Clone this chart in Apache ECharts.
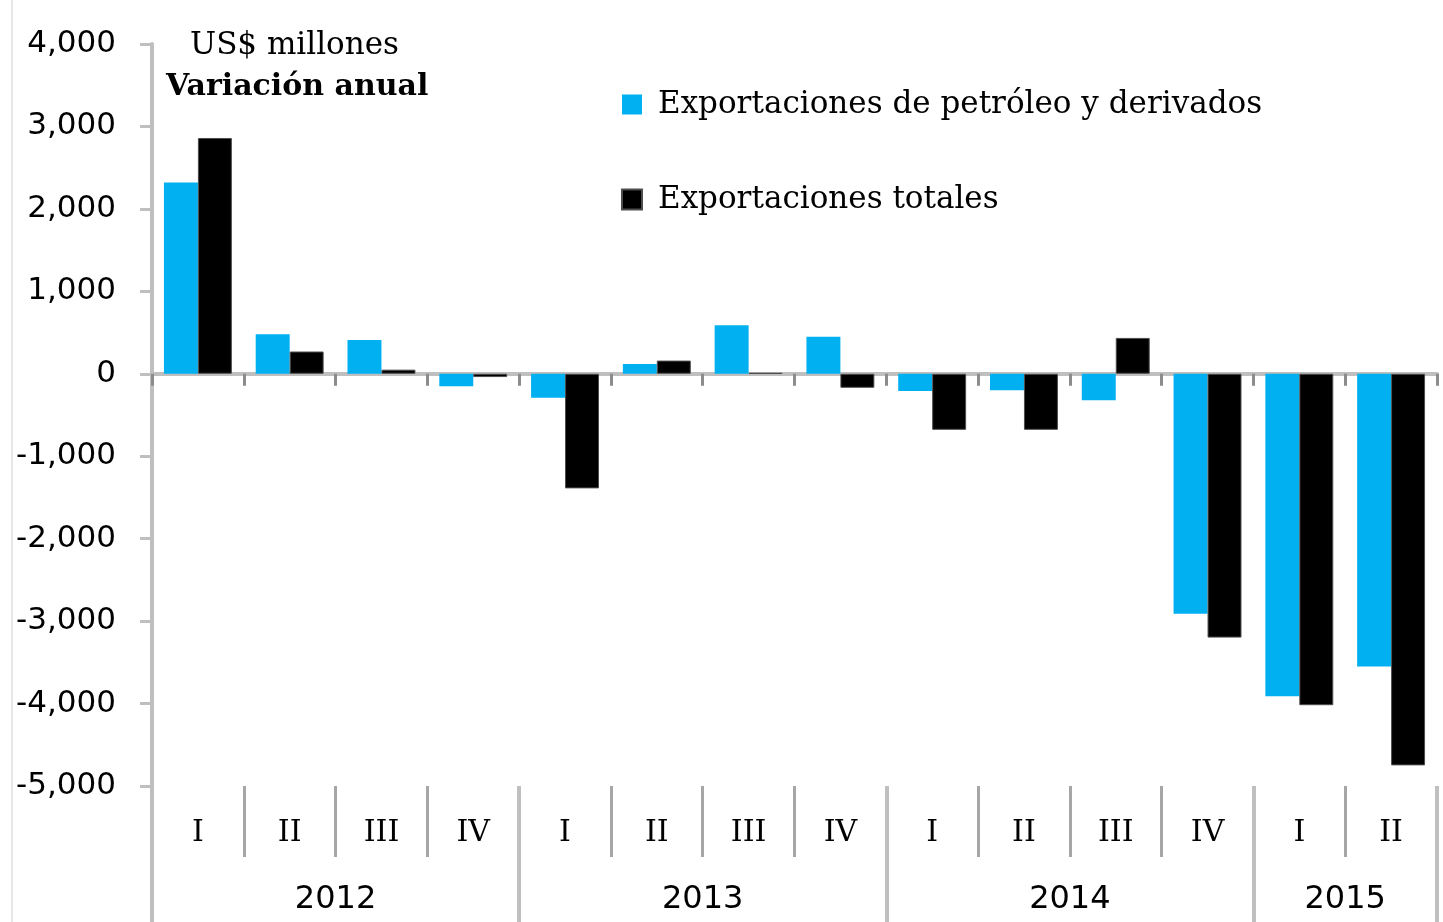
<!DOCTYPE html>
<html style="height: 100%">
<head>
    <meta charset="utf-8">
    <title>Exportaciones - variación anual</title>
</head>
<body style="height: 100%; margin: 0; background: #fff">
<div id="container" style="width: 1443px; height: 922px"></div>
<script type="text/javascript" src="https://cdn.jsdelivr.net/npm/echarts@6/dist/echarts.min.js"></script>
<script type="text/javascript">
    // trimestres y años
    var trimestres = ['I', 'II', 'III', 'IV', 'I', 'II', 'III', 'IV', 'I', 'II', 'III', 'IV', 'I', 'II'];
    var anios = ['2012', '2013', '2014', '2015'];
    var aniosPos = [2, 6, 10, 13];          // centro de cada año (en trimestres)
    var aniosLimites = [0, 4, 8, 12, 14];   // separadores entre años

    // US$ millones, variación anual
    var petroleo = [2320, 480, 410, -150, -290, 120, 590, 450, -210, -200, -320, -2910, -3910, -3550];
    var totales = [2860, 270, 50, -40, -1390, 160, 10, -170, -680, -680, 435, -3200, -4020, -4750];

    var yTicks = [-5000, -4000, -3000, -2000, -1000, 0, 1000, 2000, 3000, 4000];

    var serif = '"DejaVu Serif", "Liberation Serif", serif';
    var sans = '"DejaVu Sans", "Liberation Sans", sans-serif';
    var gris = '#BFBFBF';

    var dom = document.getElementById("container");
    var myChart = echarts.init(dom);

    var option = {
        animation: false,
        backgroundColor: '#fff',
        grid: {left: 152, right: 6, top: 44, bottom: 136},
        legend: {
            orient: 'vertical',
            left: 616,
            top: 84,
            itemWidth: 20,
            itemHeight: 20,
            itemGap: 64,
            icon: 'rect',
            textStyle: {fontFamily: serif, fontSize: 31, color: '#000', padding: [0, 0, 0, 11]},
            data: ['Exportaciones de petróleo y derivados', 'Exportaciones totales']
        },
        graphic: [
            {type: 'text', left: 190, top: 30, style: {text: 'US$ millones', font: '31px ' + serif, fill: '#000'}},
            {type: 'text', left: 166, top: 72, style: {text: 'Variación anual', font: 'bold 30px ' + serif, fill: '#000'}},
            {type: 'line', shape: {x1: 12, y1: 0, x2: 12, y2: 922}, style: {stroke: '#E6E6E6', lineWidth: 2}}
        ],
        xAxis: [
            {
                type: 'category',
                data: trimestres,
                axisLine: {onZero: true, lineStyle: {color: gris, width: 4}},
                axisTick: {show: true, length: 12, lineStyle: {color: '#8C8C8C', width: 3}},
                axisLabel: {show: false}
            },
            {
                type: 'category',
                position: 'bottom',
                data: trimestres,
                axisLine: {show: false, onZero: false},
                axisTick: {show: true, length: 71, interval: 0, lineStyle: {color: '#A6A6A6', width: 3}},
                axisLabel: {interval: 0, margin: 32, fontFamily: serif, fontSize: 30, color: '#000'}
            },
            {
                type: 'value',
                position: 'bottom',
                min: 0,
                max: 14,
                splitLine: {show: false},
                axisLine: {show: false, onZero: false},
                axisTick: {show: true, length: 140, customValues: aniosLimites, lineStyle: {color: gris, width: 4}},
                axisLabel: {
                    customValues: aniosPos,
                    margin: 98,
                    fontFamily: sans,
                    fontSize: 32,
                    color: '#000',
                    formatter: function (v) {
                        return anios[aniosPos.indexOf(v)];
                    }
                }
            }
        ],
        yAxis: {
            type: 'value',
            min: -5000,
            max: 4000,
            interval: 1000,
            splitLine: {show: false},
            axisLine: {show: true, lineStyle: {color: gris, width: 4}},
            axisTick: {show: true, length: 12, lineStyle: {color: gris, width: 3}},
            axisLabel: {
                margin: 36,
                fontFamily: sans,
                fontSize: 31,
                color: '#000',
                formatter: function (v) {
                    return yTicks.indexOf(v) >= 0 ? echarts.format.addCommas(v) : '';
                }
            }
        },
        series: [
            {
                name: 'Exportaciones de petróleo y derivados',
                type: 'bar',
                data: petroleo,
                barGap: '0%',
                barCategoryGap: '26%',
                itemStyle: {color: '#00B0F0'}
            },
            {
                name: 'Exportaciones totales',
                type: 'bar',
                data: totales,
                barGap: '0%',
                barCategoryGap: '26%',
                itemStyle: {color: '#000', borderColor: '#4D4D4D', borderWidth: 1}
            }
        ]
    };

    myChart.setOption(option, true);
</script>
</body>
</html>
